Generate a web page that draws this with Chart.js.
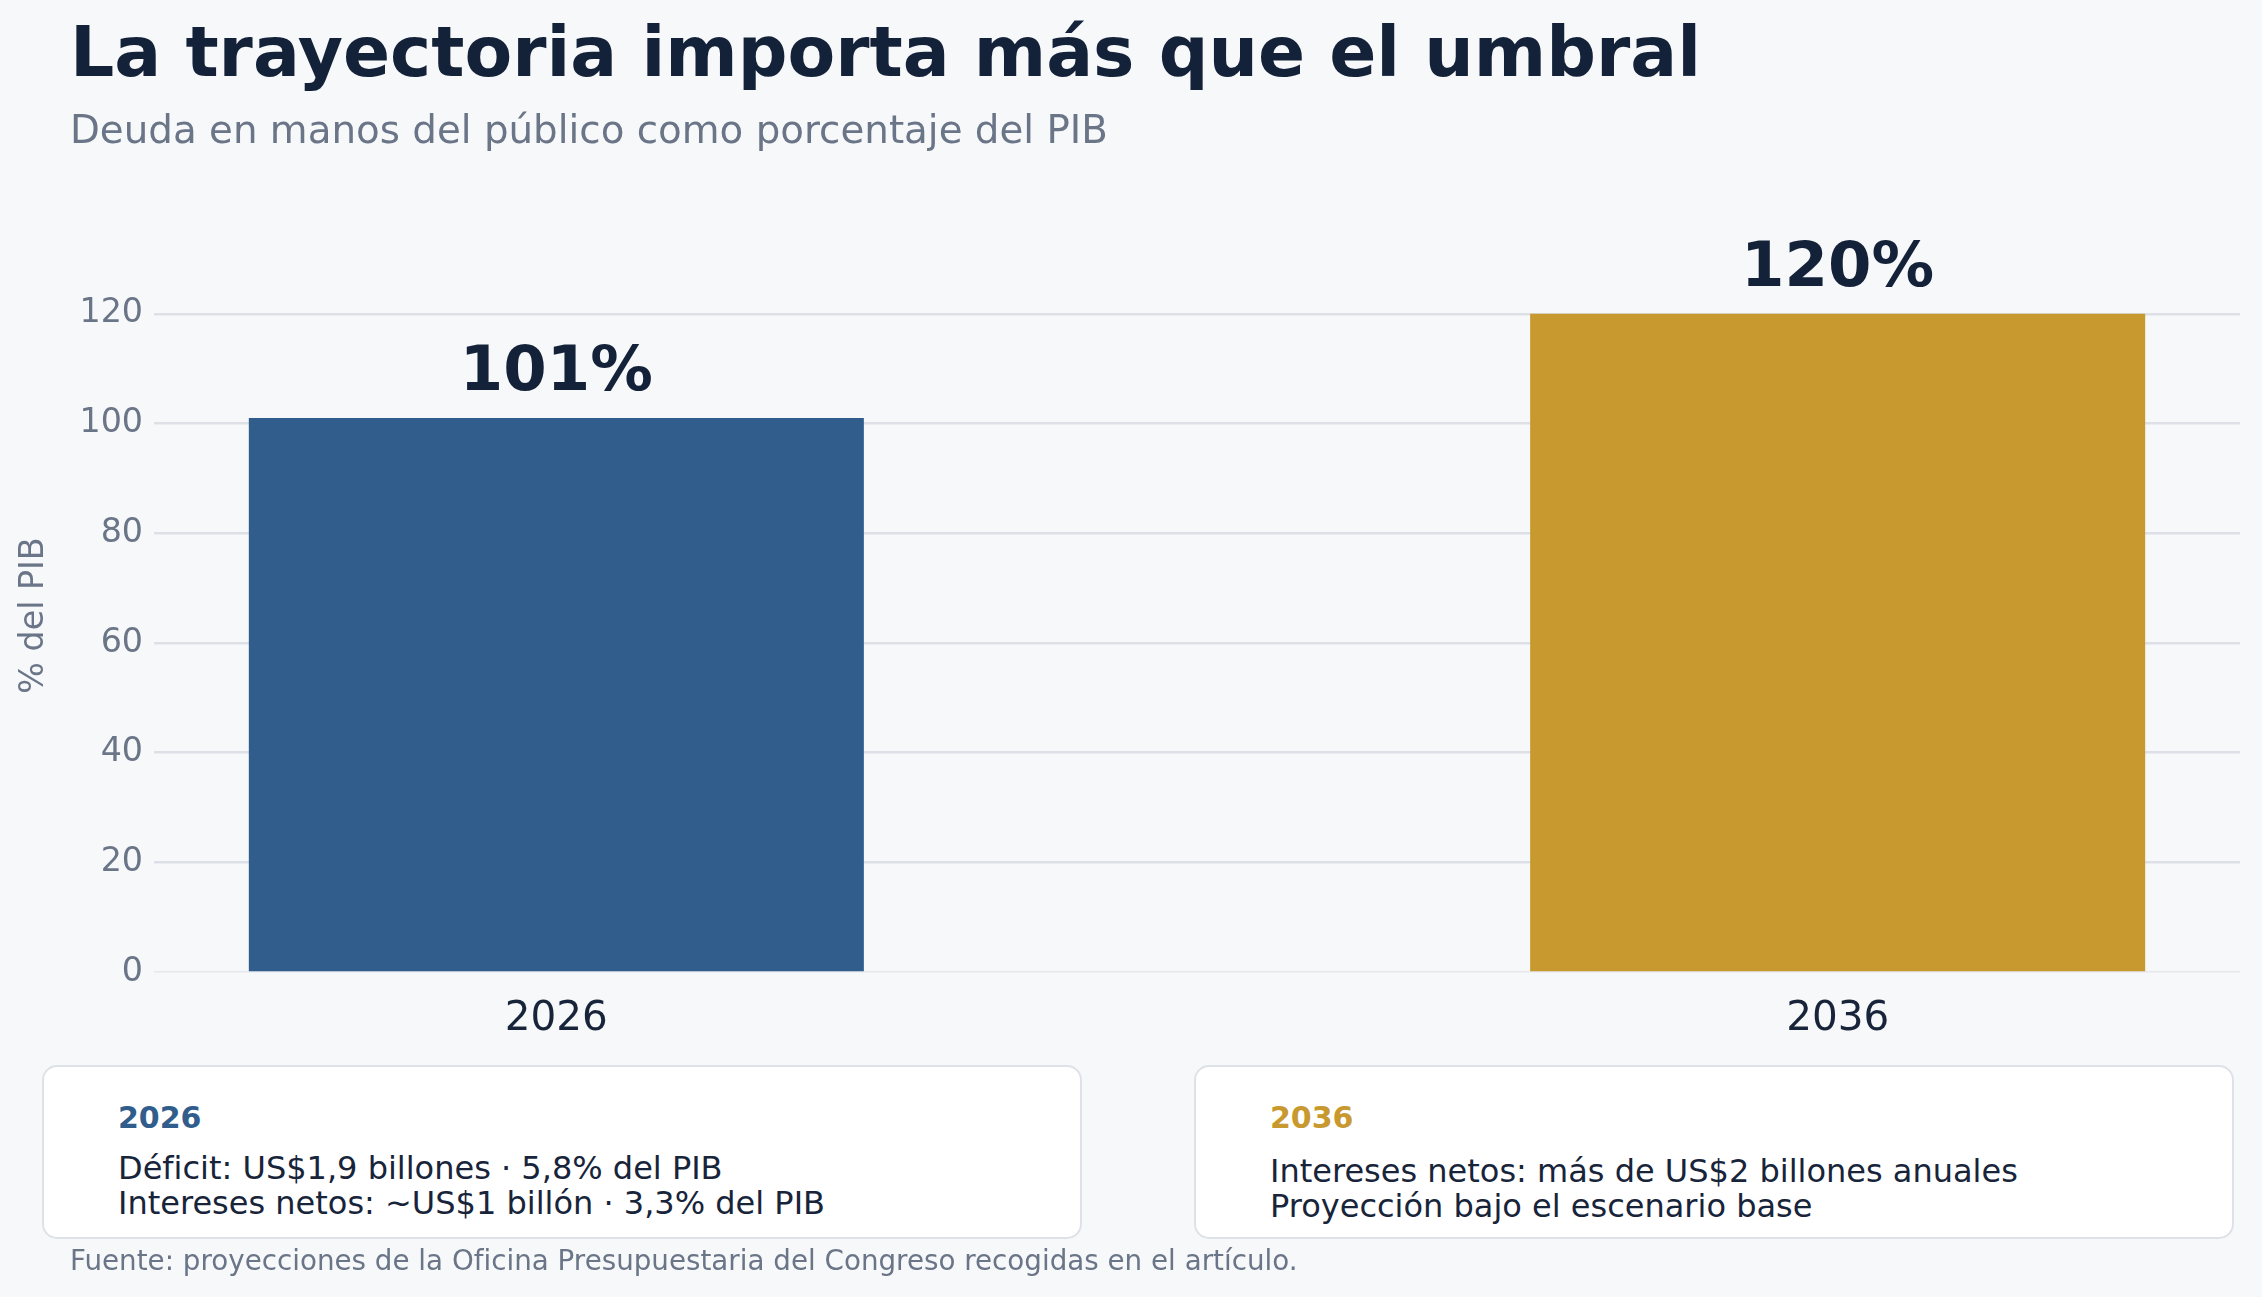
<!DOCTYPE html>
<html lang="es">
  <head>
    <meta charset="UTF-8" />
    <title>La trayectoria importa más que el umbral</title>
    <script src="https://cdn.jsdelivr.net/npm/chart.js"></script>
    <style>
      html, body { margin: 0; padding: 0; background: #f7f8fa; }
      body { width: 2262px; height: 1297px; position: relative; overflow: hidden;
             font-family: "DejaVu Sans", sans-serif; }
      #chart { position: absolute; left: 0; top: 0; }
      .t { position: absolute; line-height: 1; white-space: nowrap; }
      .box { position: absolute; top: 1065px; width: 1036px; height: 170px;
             background: #ffffff; border: 2.5px solid #dde2e9; border-radius: 15px; }
      .body { position: absolute; line-height: 35px; font-size: 32px; color: #17243a; white-space: nowrap; }
    </style>
  </head>
  <body>
    <canvas id="chart" width="2262" height="1297"></canvas>

    <div class="t" style="left:70px; top:17px; font-size:69.5px; font-weight:bold; color:#142239;">La trayectoria importa más que el umbral</div>
    <div class="t" style="left:70px; top:111px; font-size:38.8px; color:#6b7588;">Deuda en manos del público como porcentaje del PIB</div>

    <div class="box" style="left:42px;"></div>
    <div class="box" style="left:1194px;"></div>
    <div id="notes"></div>

    <div class="t" style="left:70px; top:1247px; font-size:27.75px; color:#6b7588;">Fuente: proyecciones de la Oficina Presupuestaria del Congreso recogidas en el artículo.</div>

    <script>
      // values
      const years = ["2026", "2036"];
      const debtPct = [101, 120];
      const barColors = ["#315d8c", "#c8992f"];
      const yTicks = [0, 20, 40, 60, 80, 100, 120];
      const notes2026 = ["Déficit: US$1,9 billones · 5,8% del PIB", "Intereses netos: ~US$1 billón · 3,3% del PIB"];
      const notes2036 = ["Intereses netos: más de US$2 billones anuales", "Proyección bajo el escenario base"];

      // note cards under the chart
      const notes = document.getElementById("notes");
      [[notes2026, 118, 1151], [notes2036, 1270, 1154]].forEach(([lines, left, top], i) => {
        const head = document.createElement("div");
        head.className = "t";
        head.style.cssText = `left:${left}px; top:1103px; font-size:30px; font-weight:bold; color:${barColors[i]};`;
        head.textContent = years[i];
        notes.appendChild(head);
        const body = document.createElement("div");
        body.className = "body";
        body.style.cssText = `left:${left}px; top:${top}px;`;
        body.innerHTML = lines.join("<br>");
        notes.appendChild(body);
      });

      // big % labels above bars
      const valueLabels = {
        id: "valueLabels",
        afterDatasetsDraw(chart) {
          const ctx = chart.ctx;
          const meta = chart.getDatasetMeta(0);
          ctx.save();
          ctx.font = "bold 62.5px 'DejaVu Sans'";
          ctx.fillStyle = "#142239";
          ctx.textAlign = "center";
          ctx.textBaseline = "alphabetic";
          meta.data.forEach((bar, i) => {
            ctx.fillText(debtPct[i] + "%", bar.x, bar.y - 28);
          });
          ctx.restore();
        },
      };

      const ctx = document.getElementById("chart").getContext("2d");
      new Chart(ctx, {
        type: "bar",
        data: {
          datasets: [
            {
              data: debtPct.map((v, i) => ({ x: i, y: v })),
              backgroundColor: barColors,
              barPercentage: 0.48,
              categoryPercentage: 1.0,
            },
          ],
        },
        options: {
          responsive: false,
          animation: false,
          devicePixelRatio: 1,
          layout: { padding: { left: 0, top: 259, right: 22, bottom: 245 } },
          plugins: { legend: { display: false }, tooltip: { enabled: false } },
          scales: {
            x: {
              type: "linear",
              offset: false,
              min: -0.314,
              max: 1.314,
              afterBuildTicks: (s) => { s.ticks = years.map((_, i) => ({ value: i })); },
              afterFit: (s) => { s.height = 80; },
              grid: { display: false, drawTicks: false },
              border: { display: false },
              ticks: {
                padding: 23,
                color: "#17243a",
                font: { family: "DejaVu Sans", size: 40.5 },
                callback: (v) => years[v],
              },
            },
            y: {
              min: 0,
              max: 130,
              afterBuildTicks: (s) => { s.ticks = yTicks.map((v) => ({ value: v })); },
              afterFit: (s) => { s.width = 154; },
              grid: {
                drawTicks: false,
                color: (c) => (c.tick && c.tick.value === 0 ? "#e6e8ec" : "#dde1e7"),
                lineWidth: (c) => (c.tick && c.tick.value === 0 ? 1.5 : 2.5),
              },
              border: { display: false },
              ticks: {
                padding: 11,
                color: "#6b7588",
                font: { family: "DejaVu Sans", size: 33.3 },
              },
              title: {
                display: true,
                text: "% del PIB",
                color: "#6b7588",
                font: { family: "DejaVu Sans", size: 33.3 },
                padding: { top: 14, bottom: 0 },
              },
            },
          },
        },
        plugins: [valueLabels],
      });
    </script>
  </body>
</html>
